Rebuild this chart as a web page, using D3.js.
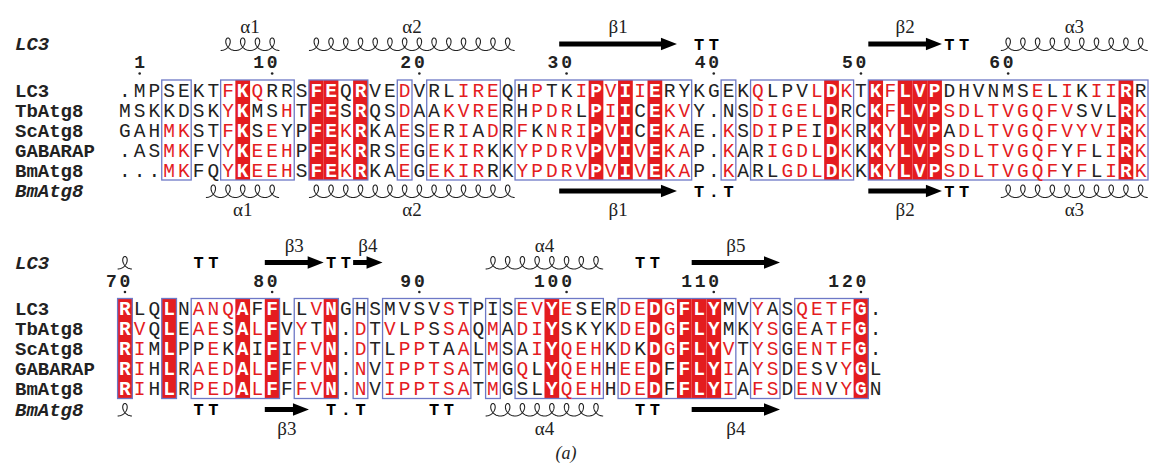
<!DOCTYPE html>
<html>
<head>
<meta charset="utf-8">
<script src="https://cdn.jsdelivr.net/npm/d3@7"></script>
<style>
body { margin: 0; background: #fff; }
svg { display: block; }
</style>
</head>
<body>
<svg id="chart" width="1150" height="464"></svg>
<script>
const names = ["LC3", "TbAtg8", "ScAtg8", "GABARAP", "BmAtg8"];

// block 1 (residues 1-69 of LC3)
const seq1 = [
    ".MPSEKTFKQRRSFEQRVEDVRLIREQHPTKIPVIIERYKGEKQLPVLDKTKFLVPDHVNMSELIKIIRR",
    "MSKKDSKYKMSHTFESRQSDAAKVRERHPDRLPIICEKVY.NSDIGELDRCKFLVPSDLTVGQFVSVLRK",
    "GAHMKSTFKSEYPFEKRKAESERIADRFKNRIPVICEKAE.KSDIPEIDKRKYLVPADLTVGQFVYVIRK",
    ".ASMKFVYKEEHPFEKRRSEGEKIRKKYPDRVPVIVEKAP.KARIGDLDKKKYLVPSDLTVGQFYFLIRK",
    "...MKFQYKEEHSFEKRKAEGEKIRRKYPDRVPVIVEKAP.KARLGDLDKKKYLVPSDLTVGQFYFLIRK"
];
// 1 = similar residue (red letter), written in groups of ten columns
const sim1 = [
    "0000000101 0000000001 0001110010 0101010000 0001000101 0010000000 0010101100",
    "0000000100 0100000001 0011110011 1001000110 0001111100 0010001111 1111100001",
    "0001100100 1000010001 0101010101 1101000110 0101101001 0010000111 1111111101",
    "0001100101 1100010001 0111100111 1101010110 0100111101 0010001111 1111010101",
    "0001100101 1100010001 0111100111 1101010110 0100011101 0010001111 1111010101"
];
const ident1 = [8, 13, 14, 16, 32, 34, 36, 48, 51, 53, 54, 55, 68];
const boxes1 = [[3, 4], [7, 11], [13, 16], [19, 19], [21, 25], [27, 38], [41, 41], [43, 49], [51, 69]];
const nums1 = [1, 10, 20, 30, 40, 50, 60];
const start1 = 1;

// block 2 (residues 70-120 of LC3)
const seq2 = [
    "RLQLNANQAFFLLVNGHSMVSVSTPISEVYESERDEDGFLYMVYASQETFG.",
    "RVQLEAESALFVYTN.DTVLPSSAQMADIYSKYKDEDGFLYMKYSGEATFG.",
    "RIMLPPEKAIFIFVN.DTLPPTAALMSAIYQEHKDKDGFLYVTYSGENTFG.",
    "RIHLRAEDALFFFVN.NVIPPTSATMGQLYQEHHEEDFFLYIAYSDESVYGL",
    "RIHLRPEDALFFFVN.NVIPPTSATMGSLYQEHHDEDFFLYIAFSDENVYGN"
];
const sim2 = [
    "0000011100 0001000000 0010000110 1000110100 0001001111 00",
    "0100011001 0010001010 1011010110 0000110100 0001101011 00",
    "0100001000 0011001001 1001010010 1110100100 0101101111 00",
    "0100011101 0011001011 1111010100 1110110000 0101101001 00",
    "0100011101 0011001011 1111010000 1110110000 0101101101 00"
];
const ident2 = [0, 3, 8, 10, 14, 29, 36, 38, 39, 40, 50];
const boxes2 = [[0, 0], [3, 3], [5, 10], [12, 14], [16, 16], [18, 23], [25, 25], [27, 32], [34, 41], [43, 44], [46, 50]];
const nums2 = [70, 80, 90, 100, 110, 120];
const start2 = 70;

// secondary structure: LC3 above, BmAtg8 below
const ss1Top = [
    { type: "helix", from: 7, to: 10, label: "α1" },
    { type: "helix", from: 13, to: 26, label: "α2" },
    { type: "strand", from: 30, to: 37, label: "β1" },
    { type: "turn", from: 39, text: "TT" },
    { type: "strand", from: 51, to: 55, label: "β2" },
    { type: "turn", from: 56, text: "TT" },
    { type: "helix", from: 60, to: 69, label: "α3" }
];
const ss1Bot = [
    { type: "helix", from: 6, to: 10, label: "α1" },
    { type: "helix", from: 13, to: 26, label: "α2" },
    { type: "strand", from: 30, to: 37, label: "β1" },
    { type: "turn", from: 39, text: "T.T" },
    { type: "strand", from: 51, to: 55, label: "β2" },
    { type: "turn", from: 56, text: "TT" },
    { type: "helix", from: 60, to: 69, label: "α3" }
];
const ss2Top = [
    { type: "helix", from: 0, to: 0, label: "" },
    { type: "turn", from: 5, text: "TT" },
    { type: "strand", from: 10, to: 13, label: "β3" },
    { type: "turn", from: 14, text: "TT" },
    { type: "strand", from: 16, to: 17, label: "β4" },
    { type: "helix", from: 25, to: 32, label: "α4" },
    { type: "turn", from: 35, text: "TT" },
    { type: "strand", from: 39, to: 44, label: "β5" }
];
const ss2Bot = [
    { type: "helix", from: 0, to: 0, label: "" },
    { type: "turn", from: 5, text: "TT" },
    { type: "strand", from: 10, to: 12, label: "β3" },
    { type: "turn", from: 14, text: "T.T" },
    { type: "turn", from: 21, text: "TT" },
    { type: "helix", from: 25, to: 32, label: "α4" },
    { type: "turn", from: 35, text: "TT" },
    { type: "strand", from: 39, to: 44, label: "β4" }
];

const RED = "#e41c1f", BLUE = "#6d78c6", INK = "#222";
const MONO = "'Liberation Mono', 'Courier New', monospace";
const SERIF = "'Liberation Serif', 'Times New Roman', serif";

const svg = d3.select("#chart");

const x = d3.scaleBand().domain(d3.range(70)).range([117.6, 1148]);
const bw = x.bandwidth();
const cx = c => x(c) + bw / 2;

const blocks = [
    { seqs: seq1, sim: sim1, ident: ident1, boxes: boxes1, nums: nums1, start: start1, top: ss1Top, bot: ss1Bot, y0: 80 },
    { seqs: seq2, sim: sim2, ident: ident2, boxes: boxes2, nums: nums2, start: start2, top: ss2Top, bot: ss2Bot, y0: 298.5 }
];
const rh = 20;

const helixLine = d3.line().curve(d3.curveLinear);

// one curl per residue, loop on top like a row of "l"
function helixPath(a, b, yb, h) {
    const r = bw / (2 * Math.PI), A = 5.4;
    const n = b - a + 1;
    const pts = [];
    for (let t = -Math.PI; t <= 2 * Math.PI * (n - 1) + Math.PI + 1e-6; t += 0.08) {
        pts.push([cx(a) + r * t - A * Math.sin(t), yb - h * (1 + Math.cos(t)) / 2]);
    }
    return helixLine(pts);
}

function arrowPath(a, b, yc) {
    const x1 = x(a), x2 = x(b) + bw;
    const head = Math.min(16, (x2 - x1) * 0.55);
    const p = d3.path();
    p.moveTo(x1, yc - 2.6);
    p.lineTo(x2 - head, yc - 2.6);
    p.lineTo(x2 - head, yc - 6.2);
    p.lineTo(x2, yc);
    p.lineTo(x2 - head, yc + 6.2);
    p.lineTo(x2 - head, yc + 2.6);
    p.lineTo(x1, yc + 2.6);
    p.closePath();
    return p.toString();
}

// one secondary-structure track; lab = baseline of the element labels
function drawSS(g, list, yc, lab, who) {
    g.append("text")
        .attr("x", 15).attr("y", yc + 6)
        .attr("font-family", MONO).attr("font-size", 19)
        .attr("font-weight", "bold").attr("font-style", "italic")
        .attr("fill", INK).text(who);

    list.forEach(s => {
        if (s.type === "helix") {
            g.append("path").attr("d", helixPath(s.from, s.to, yc + 6.5, 12.5))
                .attr("fill", "none").attr("stroke", INK).attr("stroke-width", 1.1);
        } else if (s.type === "strand") {
            g.append("path").attr("d", arrowPath(s.from, s.to, yc)).attr("fill", "#000");
        } else {
            s.text.split("").forEach((ch, i) => {
                g.append("text")
                    .attr("x", cx(s.from + i)).attr("y", yc + 5.5)
                    .attr("text-anchor", "middle")
                    .attr("font-family", MONO).attr("font-size", 17).attr("font-weight", "bold")
                    .attr("fill", "#000").text(ch);
            });
        }
        if (s.label) {
            g.append("text")
                .attr("x", (x(s.from) + x(s.to) + bw) / 2).attr("y", lab)
                .attr("text-anchor", "middle")
                .attr("font-family", SERIF).attr("font-size", 19)
                .attr("fill", INK).text(s.label);
        }
    });
}

blocks.forEach(b => {
    const g = svg.append("g");
    const y = d3.scaleBand().domain(d3.range(names.length)).range([b.y0, b.y0 + rh * names.length]);
    const yBot = b.y0 + rh * names.length;
    const masks = b.sim.map(s => s.replace(/ /g, ""));

    // identical columns
    g.selectAll("rect.id").data(b.ident).join("rect")
        .attr("x", c => x(c)).attr("width", bw)
        .attr("y", b.y0).attr("height", yBot - b.y0)
        .attr("fill", RED);

    // similarity boxes
    g.selectAll("rect.box").data(b.boxes).join("rect")
        .attr("x", d => x(d[0])).attr("width", d => x(d[1]) + bw - x(d[0]))
        .attr("y", b.y0).attr("height", yBot - b.y0)
        .attr("fill", "none").attr("stroke", BLUE).attr("stroke-width", 1.3);

    // sequence names
    g.selectAll("text.name").data(names).join("text")
        .attr("x", 15).attr("y", (d, i) => y(i) + rh / 2 + 6.5)
        .attr("font-family", MONO).attr("font-size", 19).attr("font-weight", "bold")
        .attr("fill", INK).text(d => d);

    // residues
    const cells = [];
    b.seqs.forEach((s, r) => s.split("").forEach((ch, c) => {
        cells.push({ r, c, ch, id: b.ident.includes(c), sim: masks[r][c] === "1" });
    }));
    g.selectAll("text.res").data(cells).join("text")
        .attr("x", d => cx(d.c)).attr("y", d => y(d.r) + rh / 2 + 6.5)
        .attr("text-anchor", "middle")
        .attr("font-family", MONO).attr("font-size", 19.5)
        .attr("font-weight", d => d.id ? "bold" : "normal")
        .attr("fill", d => d.id ? "#fff" : (d.sim ? RED : INK))
        .text(d => d.ch);

    // numbering taken from the LC3 row
    let n = b.start - 1;
    const marks = [];
    b.seqs[0].split("").forEach((ch, c) => {
        if (ch !== ".") { n++; if (b.nums.includes(n)) marks.push({ n, c }); }
    });
    marks.forEach(m => {
        String(m.n).split("").reverse().forEach((dg, i) => {
            g.append("text")
                .attr("x", cx(m.c) - i * 13.6).attr("y", b.y0 - 12)
                .attr("text-anchor", "middle")
                .attr("font-family", MONO).attr("font-size", 18).attr("font-weight", "bold")
                .attr("fill", INK).text(dg);
        });
        g.append("circle").attr("cx", cx(m.c)).attr("cy", b.y0 - 6.5).attr("r", 1.3).attr("fill", INK);
    });

    drawSS(g, b.top, b.y0 - 36, b.y0 - 47, "LC3");
    drawSS(g, b.bot, yBot + 11, yBot + 36, "BmAtg8");
});

svg.append("text")
    .attr("x", 566).attr("y", 459)
    .attr("text-anchor", "middle")
    .attr("font-family", SERIF).attr("font-size", 18).attr("font-style", "italic")
    .attr("fill", INK).text("(a)");
</script>
</body>
</html>
